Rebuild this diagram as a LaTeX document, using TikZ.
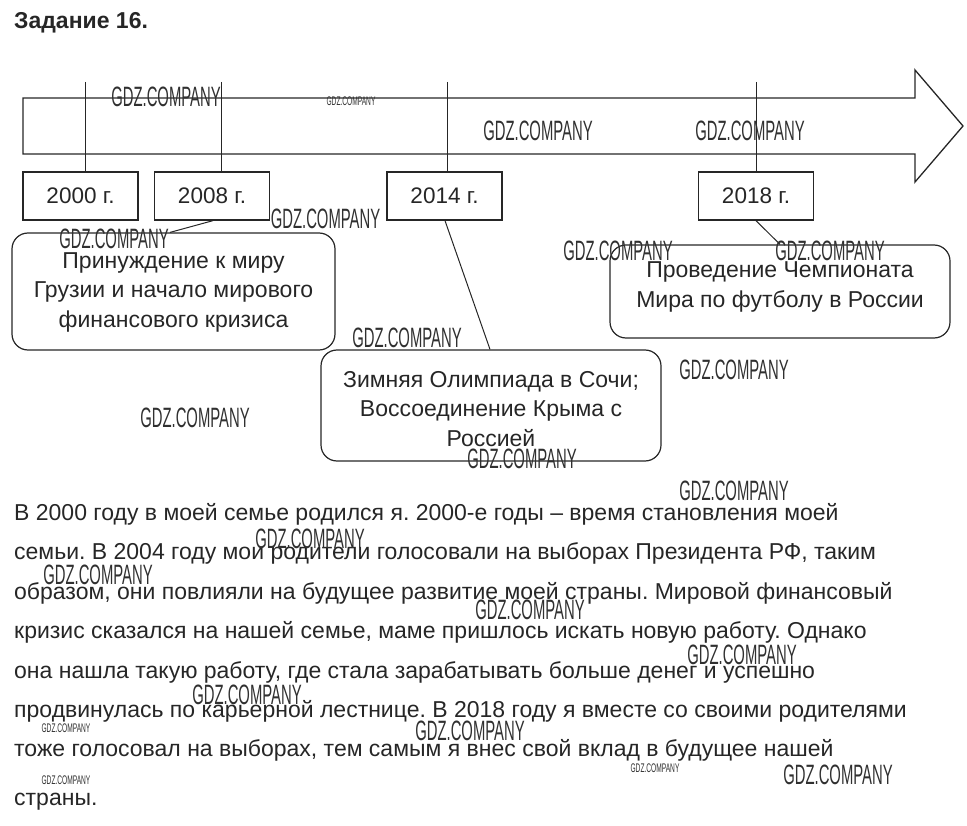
\documentclass[tikz,border=0pt]{standalone}
\usepackage{fontspec}
\usepackage{graphicx}
\setmainfont{Liberation Sans}
\frenchspacing
\definecolor{ink}{HTML}{262626}
\definecolor{wmc}{HTML}{303030}
\begin{document}
\begin{tikzpicture}[x=1pt,y=-1pt,
  yearbox/.style={draw=ink, line width=1.3pt, minimum width=115pt, minimum height=48pt, inner sep=0pt, font=\fontsize{22.5}{24}\selectfont, text=ink},
  eventbox/.style={draw=ink, line width=1.2pt, rounded corners=16pt, inner sep=0pt},
  eventtext/.style={align=center, font=\fontsize{23}{29.5}\selectfont, text=ink, inner sep=0pt},
  tick/.style={draw=ink, line width=1pt},
  conn/.style={draw=ink, line width=1pt},
  para/.style={anchor=base west, inner sep=0pt, font=\fontsize{23}{26}\selectfont, text=ink},
  wm/.style={inner sep=0pt, text=wmc, font=\fontsize{28}{28}\selectfont},
  wms/.style={inner sep=0pt, text=wmc, font=\fontsize{12.5}{13}\selectfont}]
\useasboundingbox (0,0) rectangle (967,826);
% title
\node[anchor=base west, inner sep=0pt, font=\fontsize{23}{26}\selectfont\bfseries, text=ink] (title) at (14,28.5) {Задание 16.};
% timeline arrow
\draw[ink, line width=1.3pt, line join=miter] (23,98) -- (915,98) -- (915,70) -- (963,126) -- (915,182) -- (915,154) -- (23,154) -- cycle;
% year boxes
\node[yearbox] (y2000) at (80.5,196) {2000 г.};
\node[yearbox] (y2008) at (212,196) {2008 г.};
\node[yearbox] (y2014) at (444.5,196) {2014 г.};
\node[yearbox] (y2018) at (756,196) {2018 г.};
% ticks
\coordinate (t2000) at (85,82);
\coordinate (t2008) at (221,82);
\coordinate (t2014) at (447,82);
\coordinate (t2018) at (756,82);
\draw[tick] (t2000) -- (t2000 |- y2000.north);
\draw[tick] (t2008) -- (t2008 |- y2008.north);
\draw[tick] (t2014) -- (t2014 |- y2014.north);
\draw[tick] (t2018) -- (t2018 |- y2018.north);
% event boxes
\node[eventbox, minimum width=323pt, minimum height=117pt] (e2008) at (173.5,291.5) {};
\node[eventbox, minimum width=340pt, minimum height=111pt] (e2014) at (491,405.5) {};
\node[eventbox, minimum width=340pt, minimum height=93pt] (e2018) at (780,291.5) {};
\node[eventtext] (x2008) at (173.5,292) {Принуждение к миру\\Грузии и начало мирового\\финансового кризиса};
\node[eventtext] (x2014) at (491,409) {Зимняя Олимпиада в Сочи;\\Воссоединение Крыма с\\Россией};
\node[eventtext] (x2018) at (780,287) {Проведение Чемпионата\\Мира по футболу в России};
% connectors
\draw[conn] (y2008.south -| 213,0) -- (e2008.north -| 170,0);
\draw[conn] (y2014.south -| 445,0) -- (e2014.north -| 490,0);
\draw[conn] (y2018.south -| 756,0) -- (e2018.north -| 780,0);
% paragraph
\node[para] (p1) at (14,520) {В 2000 году в моей семье родился я. 2000-е годы – время становления моей};
\node[para] (p2) at (14,559.5) {семьи. В 2004 году мои родители голосовали на выборах Президента РФ, таким};
\node[para] (p3) at (14,599) {образом, они повлияли на будущее развитие моей страны. Мировой финансовый};
\node[para] (p4) at (14,638.5) {кризис сказался на нашей семье, маме пришлось искать новую работу. Однако};
\node[para] (p5) at (14,678) {она нашла такую работу, где стала зарабатывать больше денег и успешно};
\node[para] (p6) at (14,717) {продвинулась по карьерной лестнице. В 2018 году я вместе со своими родителями};
\node[para] (p7) at (14,756) {тоже голосовал на выборах, тем самым я внес свой вклад в будущее нашей};
\node[para] (p8) at (14,805) {страны.};
% watermarks
\foreach \n/\px/\py in {w1/166/97, w3/538/130.5, w4/750/130.5, w5/325.5/218.5, w6/114/239, w7/618/250.5, w8/830/250.5, w9/407/338, w10/734/370, w11/195/418, w12/522/459, w13/734/491, w14/98/574.5, w15/530/610, w16/742/655, w17/247/694.5, w18/470/731, w21/838/774.5, w22/310/538.5}
  \node[wm] (\n) at (\px,\py) {\scalebox{0.53}[1]{GDZ.COMPANY}};
\foreach \n/\px/\py in {s1/351/101.5, s2/66/728, s3/66/780, s4/655/768.5}
  \node[wms] (\n) at (\px,\py) {\scalebox{0.53}[1]{GDZ.COMPANY}};
\end{tikzpicture}
\end{document}
